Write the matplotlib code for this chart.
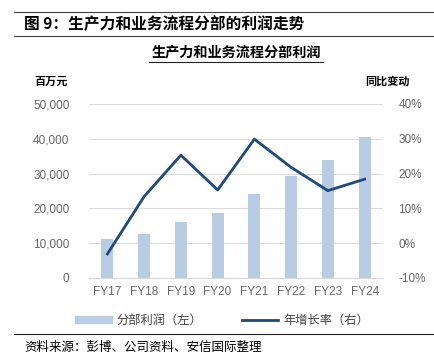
import matplotlib.pyplot as plt
import numpy as np
from matplotlib.lines import Line2D
from matplotlib.patches import Patch

plt.rcParams['font.family'] = ['Noto Sans CJK SC', 'DejaVu Sans']

years = ['FY17', 'FY18', 'FY19', 'FY20', 'FY21', 'FY22', 'FY23', 'FY24']
profit = [11200, 12700, 16100, 18600, 24100, 29400, 34000, 40400]   # 百万元
growth = [-3.1, 13.4, 25.3, 15.3, 29.9, 21.8, 15.1, 18.4]            # %

bar_color = '#b8cce4'
line_color = '#1f497d'
tick_color = '#666666'

fig = plt.figure(figsize=(4.34, 3.64), dpi=100)
ax = fig.add_axes([89/434, 1-278/364, 294/434, 174/364])
ax2 = ax.twinx()

x = np.arange(len(years))
ax.bar(x, profit, width=0.33, color=bar_color, zorder=2)
ax2.plot(x, growth, color=line_color, lw=2, zorder=3)

ax.set_xlim(-0.5, 7.5)
ax.set_ylim(0, 50000)
ax.set_yticks(range(0, 50001, 10000))
ax.set_yticklabels([f'{v:,}' for v in range(0, 50001, 10000)])
ax2.set_ylim(-10, 40)
ax2.set_yticks(range(-10, 41, 10))
ax2.set_yticklabels([f'{v}%' for v in range(-10, 41, 10)])
ax.set_xticks(x)
ax.set_xticklabels(years)

ax.grid(axis='y', color='#dcdcdc', lw=0.8, zorder=0)
ax.set_axisbelow(True)
for a in (ax, ax2):
    for s in ['top', 'left', 'right']:
        a.spines[s].set_visible(False)
    a.spines['bottom'].set_color('#d9d9d9')
    a.tick_params(length=0, labelsize=8.5, colors=tick_color, labelfontfamily='Liberation Sans')
ax.tick_params(axis='y', pad=14)
ax2.tick_params(axis='y', pad=11)
ax.tick_params(axis='x', pad=6)

# header
fig.add_artist(Line2D([14/434, 1], [1-12/364]*2, color='#404040', lw=0.8))
fig.add_artist(Line2D([14/434, 1], [1-36/364]*2, color='#404040', lw=0.8))
fig.text(24/434, 1-24/364, '图 9：生产力和业务流程分部的利润走势', fontsize=11.3,
         fontweight='bold', va='center', ha='left')
fig.text(236/434, 1-53/364, '生产力和业务流程分部利润', fontsize=10.2,
         fontweight='bold', va='center', ha='center')
fig.add_artist(Line2D([149/434, 323/434], [1-62/364]*2, color='#222222', lw=0.8))
fig.text(34/434, 1-81/364, '百万元', fontsize=8, fontweight='bold', va='center')
fig.text(365/434, 1-81/364, '同比变动', fontsize=8, fontweight='bold', va='center')

# legend
handles = [Patch(color=bar_color), Line2D([], [], color=line_color, lw=2)]
fig.legend(handles, ['分部利润（左）', '年增长率（右）'], loc='center',
           bbox_to_anchor=(222/434, 1-320/364), ncol=2, frameon=False, fontsize=8.8,
           handlelength=3, handleheight=0.5, handletextpad=0.4, columnspacing=3.2,
           labelcolor='#404040')

fig.add_artist(Line2D([14/434, 1], [1-334/364]*2, color='#222222', lw=0.8))
fig.text(24/434, 1-347/364, '资料来源：彭博、公司资料、安信国际整理', fontsize=9,
         style='italic', va='center')

fig.savefig('out.png', dpi=100)
